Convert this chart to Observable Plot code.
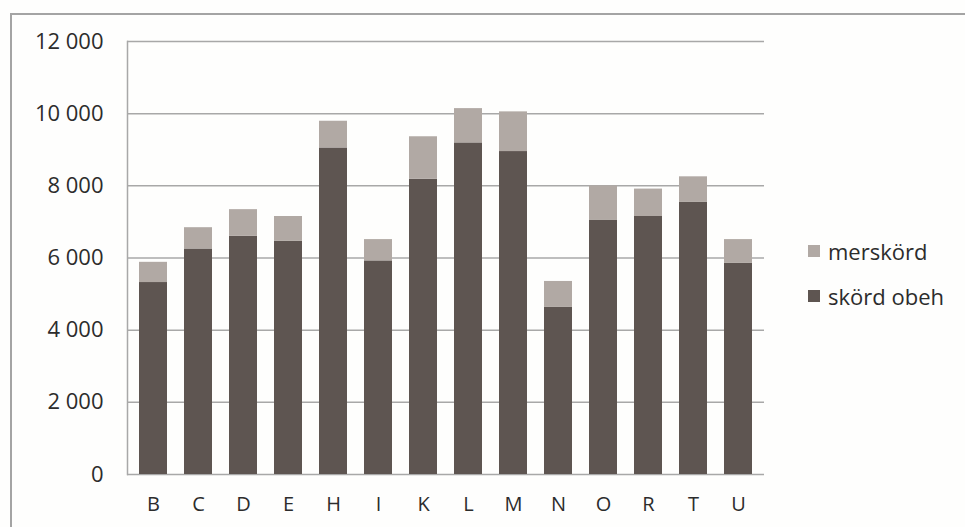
<!DOCTYPE html>
<html>
<head>
<meta charset="utf-8">
<script src="https://cdn.jsdelivr.net/npm/d3@7"></script>
<script src="https://cdn.jsdelivr.net/npm/@observablehq/plot@0.6"></script>
<style>
  html, body { margin: 0; padding: 0; background: #ffffff; }
  #wrap { position: relative; width: 965px; height: 527px; overflow: hidden; font-family: "Open Sans", sans-serif; background: #fefefd; }
  #frame { position: absolute; left: 10px; top: 13px; width: 1000px; height: 600px; border: 2px solid #a4a4a4; box-sizing: border-box; }
  #chart { position: absolute; left: 0; top: 0; }
  #legend { position: absolute; left: 808px; top: 234px; color: #2c2c2c; font-size: 22px; }
  .item { display: flex; align-items: center; height: 34px; margin-bottom: 11px; }
  .sw { width: 12px; height: 12px; margin-right: 8px; }
</style>
</head>
<body>
<div id="wrap">
  <div id="frame"></div>
  <div id="chart"></div>
  <div id="legend"></div>
</div>
<script>
// Data
const categories = ["B","C","D","E","H","I","K","L","M","N","O","R","T","U"];
const skordObeh = [5320, 6250, 6600, 6460, 9050, 5920, 8180, 9190, 8950, 4630, 7040, 7150, 7540, 5850];
const merskord  = [ 560,  590,  740,  690,  740,  590, 1180,  950, 1100,  720,  960,  760,  710,  660];
const seriesNames = ["skörd obeh", "merskörd"];
const seriesColors = ["#5e5551", "#b1a9a4"];
const yTicks = [0, 2000, 4000, 6000, 8000, 10000, 12000];

const rows = [];
categories.forEach((c, i) => {
  rows.push({cat: c, series: seriesNames[0], value: skordObeh[i]});
  rows.push({cat: c, series: seriesNames[1], value: merskord[i]});
});

const fmt = d => d3.format(",")(d).replace(/,/g, " ");

const chart = Plot.plot({
  width: 965,
  height: 527,
  marginLeft: 127,
  marginRight: 201,
  marginTop: 41,
  marginBottom: 53,
  style: { background: "transparent", color: "#2c2c2c", fontFamily: "Open Sans, sans-serif" },
  x: { domain: categories, paddingInner: 0.385, paddingOuter: 0.176, label: null, axis: null },
  y: { domain: [0, 12000], label: null },
  color: { domain: seriesNames, range: seriesColors },
  marks: [
    Plot.ruleY(yTicks, { stroke: "#a8a8a8", strokeWidth: 1.5 }),
    Plot.frame({ anchor: "left", stroke: "#a8a8a8", strokeWidth: 1.5 }),
    Plot.barY(rows, Plot.stackY({ x: "cat", y: "value", fill: "series", order: seriesNames })),
    Plot.axisY({ ticks: yTicks, tickFormat: fmt, tickSize: 0, tickPadding: 24, fontSize: 22, label: null }),
    Plot.text(categories, { x: d => d, frameAnchor: "bottom", lineAnchor: "top", dy: 22, fontSize: 20, fill: "#2c2c2c" })
  ]
});
document.getElementById("chart").appendChild(chart);

// Legend (top item first, as in the reference)
const legend = document.getElementById("legend");
[1, 0].forEach(i => {
  const item = document.createElement("div");
  item.className = "item";
  const sw = document.createElement("div");
  sw.className = "sw";
  sw.style.background = seriesColors[i];
  const tx = document.createElement("span");
  tx.textContent = seriesNames[i];
  item.appendChild(sw);
  item.appendChild(tx);
  legend.appendChild(item);
});
</script>
</body>
</html>
